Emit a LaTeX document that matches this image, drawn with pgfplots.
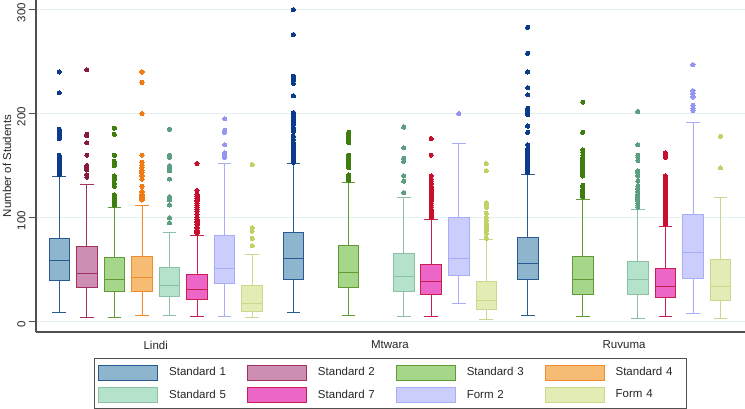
\documentclass[border=0pt]{standalone}
\usepackage{fontspec}
\setmainfont{Liberation Sans}
\usepackage{pgfplots}
\usepgfplotslibrary{statistics}
\pgfplotsset{compat=1.18}

\definecolor{c1f}{HTML}{8DB6CE}\definecolor{c1l}{HTML}{2A5A94}\definecolor{c1d}{HTML}{0D3B8C}
\definecolor{c2f}{HTML}{CC8FB3}\definecolor{c2l}{HTML}{A03060}\definecolor{c2d}{HTML}{8A1A3A}
\definecolor{c3f}{HTML}{A5D68A}\definecolor{c3l}{HTML}{5E9C33}\definecolor{c3d}{HTML}{3F7D0F}
\definecolor{c4f}{HTML}{F7BC74}\definecolor{c4l}{HTML}{F28A30}\definecolor{c4d}{HTML}{F27A14}
\definecolor{c5f}{HTML}{B5E2CB}\definecolor{c5l}{HTML}{8CC0A6}\definecolor{c5d}{HTML}{5C9E80}
\definecolor{c7f}{HTML}{EC66C8}\definecolor{c7l}{HTML}{C81E52}\definecolor{c7d}{HTML}{C8102E}
\definecolor{f2f}{HTML}{CBCDFD}\definecolor{f2l}{HTML}{A9ACF6}\definecolor{f2d}{HTML}{9496F2}
\definecolor{f4f}{HTML}{E4ECB6}\definecolor{f4l}{HTML}{CAD88E}\definecolor{f4d}{HTML}{C0D166}
\definecolor{axgray}{HTML}{505050}
\definecolor{gridc}{HTML}{E4EFF1}

\pgfplotsset{
  bs/.style n args={3}{draw=#1, fill=#2, line width=0.9pt, mark=*, mark size=2.1pt,
     mark options={draw=#3, fill=#3, solid, line width=0pt}, forget plot},
  s1/.style={bs={c1l}{c1f}{c1d}}, s2/.style={bs={c2l}{c2f}{c2d}},
  s3/.style={bs={c3l}{c3f}{c3d}}, s4/.style={bs={c4l}{c4f}{c4d}},
  s5/.style={bs={c5l}{c5f}{c5d}}, s7/.style={bs={c7l}{c7f}{c7d}},
  f2/.style={bs={f2l}{f2f}{f2d}}, f4/.style={bs={f4l}{f4f}{f4d}},
}
\newcommand{\bx}[8]{\addplot[#7, boxplot prepared={draw position=#1, lower whisker=#2,
  lower quartile=#3, median=#4, upper quartile=#5, upper whisker=#6}]
  table[row sep=\\, y index=0] {v\\ #8};}

\begin{document}
\begin{tikzpicture}
\begin{axis}[
  scale only axis, width=709pt, height=332pt,
  xmin=-0.846, xmax=24.889, ymin=-10, ymax=309.2,
  axis x line*=bottom, axis y line*=left,
  axis line style={draw=axgray, line width=1.2pt},
  boxplot/draw direction=y, boxplot/box extend=0.75, boxplot/whisker extend=0.5,
  xtick={3.5,12,20.5}, xticklabels={Lindi,Mtwara,Ruvuma},
  x tick style={draw=none}, 
  ytick={0,100,200,300},
  y tick style={draw=axgray, line width=0.8pt},
  tick align=outside, major tick length=7pt,
  ymajorgrids, grid style={draw=gridc, line width=0.7pt},
  /pgf/number format/assume math mode=true,
  tick label style={font=\fontsize{11.5}{13}\selectfont, text=black!85},
  yticklabel style={rotate=90, anchor=south, xshift=-3pt},
  xticklabel style={yshift=1.5pt},
  every axis y label/.style={at={(axis description cs:-0.0409,0.5)}, rotate=90, anchor=center},
  ylabel={Number of Students},
  label style={font=\fontsize{11.5}{13}\selectfont, text=black!85},
  legend columns=4,
  legend cell align=left,
  legend image code/.code={\draw[#1, line width=0.8pt] (0pt,-7.5pt) rectangle (59pt,7.5pt);},
  legend style={at={(axis description cs:0.5,-0.0783)}, anchor=north,
    draw=axgray, line width=1.2pt, inner xsep=4pt, inner ysep=6pt,
    font=\fontsize{11.5}{13}\selectfont, row sep=6.5pt,
    nodes={inner sep=2pt, text width=72pt, align=left, text=black!85},
    /tikz/every even column/.append style={column sep=4pt},
    /tikz/every odd column/.append style={column sep=9pt},
    /tikz/column 8/.append style={nodes={text width=65pt}}},
]
% Lindi
\bx{0}{9}{39.4}{58.4}{79.5}{139.4}{s1}{141\\142\\143\\144\\145\\146\\147\\148\\149\\150\\151\\152\\153\\154\\155\\156\\158\\160\\176\\178\\180\\182\\184\\185\\220\\240\\}
\bx{1}{3.8}{32.4}{46.5}{72.5}{132}{s2}{139\\141\\146\\148\\150\\160\\172\\179\\180\\242\\}
\bx{2}{3.8}{28.8}{40.8}{61.9}{109.3}{s3}{112\\113\\114\\115\\116\\117\\118\\120\\122\\130\\133\\137\\140\\150\\152\\154\\160\\180\\186\\}
\bx{3}{6.2}{28.8}{42.7}{62.5}{111.4}{s4}{117\\118\\119\\120\\121\\122\\124\\125\\130\\137\\140\\143\\145\\148\\150\\153\\160\\200\\230\\240\\}
\bx{4}{6.2}{24.4}{34.6}{51.6}{85.8}{s5}{95\\100\\112\\117\\119\\120\\137\\145\\148\\150\\158\\160\\185\\}
\bx{5}{4.8}{21.5}{30.5}{45.6}{82.9}{s7}{85\\86\\87\\88\\90\\93\\95\\96\\98\\100\\103\\106\\108\\110\\112\\114\\116\\118\\120\\122\\126\\152\\}
\bx{6}{4.5}{36.5}{51.3}{82.9}{152}{f2}{158\\160\\162\\170\\182\\184\\195\\}
\bx{7}{3.8}{9.6}{17.7}{34.6}{64.2}{f4}{73\\80\\87\\90\\151\\}
% Mtwara
\bx{8.5}{8.7}{40.8}{60.3}{85.4}{152}{s1}{153\\154\\155\\156\\157\\158\\159\\160\\161\\162\\163\\165\\168\\170\\172\\175\\178\\183\\186\\190\\192\\193\\196\\198\\199\\200\\201\\217\\229\\232\\234\\236\\276\\300\\}
\bx{10.5}{6.2}{33}{47.5}{73.3}{134}{s3}{136\\137\\138\\139\\140\\141\\148\\150\\152\\154\\156\\158\\160\\172\\174\\176\\177\\178\\179\\180\\181\\182\\}
\bx{12.5}{4.5}{28.8}{43}{65.6}{119.5}{s5}{124\\135\\140\\154\\157\\167\\187\\}
\bx{13.5}{4.5}{26.3}{38.8}{55}{97.8}{s7}{100\\101\\102\\103\\104\\105\\106\\107\\108\\110\\112\\114\\116\\118\\120\\122\\124\\126\\128\\130\\133\\135\\137\\140\\160\\176\\}
\bx{14.5}{17.7}{44}{60.3}{99.8}{171.5}{f2}{200\\}
\bx{15.5}{1.6}{11.9}{20.2}{38.3}{78.8}{f4}{80\\85\\88\\90\\92\\94\\97\\100\\104\\110\\112\\114\\145\\152\\}
% Ruvuma
\bx{17}{6.2}{40.8}{56.2}{80.8}{141.7}{s1}{143\\144\\145\\146\\147\\148\\149\\150\\151\\152\\153\\154\\155\\156\\157\\158\\160\\162\\164\\166\\170\\182\\188\\199\\201\\203\\205\\218\\225\\240\\258\\283\\}
\bx{19}{4.5}{26.3}{40.1}{62.3}{117.5}{s3}{120\\121\\122\\123\\125\\127\\130\\131\\140\\142\\144\\146\\148\\150\\152\\154\\156\\158\\160\\163\\165\\182\\211\\}
\bx{21}{2.6}{26.3}{40.1}{58.2}{107.5}{s5}{110\\112\\114\\116\\118\\120\\122\\125\\128\\130\\135\\140\\143\\145\\155\\158\\160\\170\\202\\}
\bx{22}{4.5}{23.3}{34}{50.8}{91.5}{s7}{94\\96\\98\\100\\102\\104\\106\\108\\110\\112\\114\\116\\118\\120\\122\\124\\126\\128\\130\\132\\134\\136\\138\\140\\158\\160\\162\\}
\bx{23}{8}{41.4}{66.5}{102.6}{191.7}{f2}{203\\205\\208\\216\\219\\222\\247\\}
\bx{24}{2.6}{20}{34.1}{60.1}{119.7}{f4}{148\\178\\}
% legend
\addlegendimage{draw=c1l, fill=c1f}\addlegendentry{Standard 1}
\addlegendimage{draw=c2l, fill=c2f}\addlegendentry{Standard 2}
\addlegendimage{draw=c3l, fill=c3f}\addlegendentry{Standard 3}
\addlegendimage{draw=c4l, fill=c4f}\addlegendentry{Standard 4}
\addlegendimage{draw=c5l, fill=c5f}\addlegendentry{Standard 5}
\addlegendimage{draw=c7l, fill=c7f}\addlegendentry{Standard 7}
\addlegendimage{draw=f2l, fill=f2f}\addlegendentry{Form 2}
\addlegendimage{draw=f4l, fill=f4f}\addlegendentry{Form 4}
\end{axis}
\pgfresetboundingbox
\path[use as bounding box] (-36pt,-77pt) rectangle (709pt,332pt);
\end{tikzpicture}
\end{document}
